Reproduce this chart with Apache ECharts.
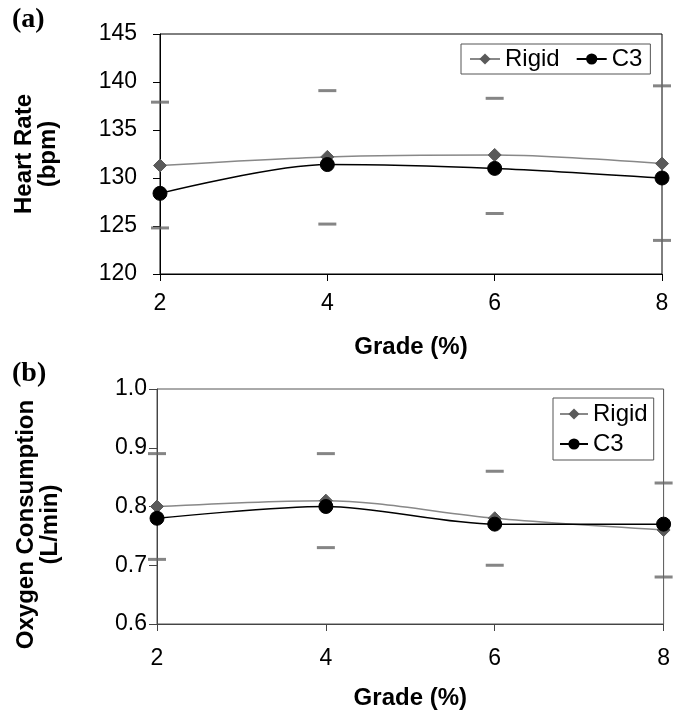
<!DOCTYPE html>
<html>
<head>
<meta charset="utf-8">
<script src="https://cdn.jsdelivr.net/npm/echarts@6/dist/echarts.min.js"></script>
<style>html,body{margin:0;padding:0;background:#fff}#c{width:673px;height:711px}</style>
</head>
<body>
<div id="c"></div>
<script>
var grades = [2, 4, 6, 8];
var hrRigid = [131.3, 132.2, 132.4, 131.5];
var hrC3 = [128.4, 131.4, 131.0, 130.0];
var hrErrUpper = [137.9, 139.1, 138.3, 139.6];
var hrErrLower = [124.8, 125.2, 126.3, 123.5];
var vo2Rigid = [0.80, 0.81, 0.78, 0.76];
var vo2C3 = [0.78, 0.80, 0.77, 0.77];
var vo2ErrUpper = [0.89, 0.89, 0.86, 0.84];
var vo2ErrLower = [0.71, 0.73, 0.70, 0.68];
var hrTicks = [120, 125, 130, 135, 140, 145];
var vo2Ticks = [0.6, 0.7, 0.8, 0.9, 1.0];

function pairs(xs, ys) { return xs.map(function (x, i) { return [x, ys[i]]; }); }

var FONT = '"Liberation Sans", Arial, sans-serif';
var rigidLine = '#888888', rigidMark = '#5a5a5a', errCol = '#666666';
var TICK_FS = 23, TITLE_FS = 24, LEG_FS = 24;

function xAxisFor(gi, color, titleGap, labelMargin) {
  return {
    type: 'value', gridIndex: gi, min: 2, max: 8, interval: 2,
    name: 'Grade (%)', nameLocation: 'middle', nameGap: titleGap,
    nameTextStyle: { fontFamily: FONT, fontSize: TITLE_FS, fontWeight: 'bold', color: '#000' },
    axisLine: { show: true, onZero: false, lineStyle: { color: color, width: 1 } },
    axisTick: { show: true, length: 7, lineStyle: { color: color } },
    axisLabel: { fontFamily: FONT, fontSize: TICK_FS, color: '#000', margin: labelMargin },
    splitLine: { show: false }
  };
}

var option = {
  animation: false,
  backgroundColor: '#fff',
  textStyle: { fontFamily: FONT },
  grid: [
    { left: 160, top: 34, right: 11, height: 240, show: true, borderColor: '#000', borderWidth: 1, backgroundColor: 'transparent' },
    { left: 157, top: 389, right: 7, height: 237, show: true, borderColor: '#555', borderWidth: 1, backgroundColor: 'transparent' }
  ],
  legend: [
    {
      data: ['Rigid', 'C3'], orient: 'horizontal', left: 461, top: 44,
      padding: [3, 8, 3, 8], itemGap: 16, itemWidth: 30, itemHeight: 14,
      borderColor: '#555', borderWidth: 1, borderRadius: 0,
      textStyle: { fontFamily: FONT, fontSize: LEG_FS, color: '#000' }
    },
    {
      data: ['Rigid', 'C3'], orient: 'vertical', left: 553, top: 398,
      padding: [4, 6, 4, 6], itemGap: 6, itemWidth: 28, itemHeight: 14,
      borderColor: '#555', borderWidth: 1, borderRadius: 0,
      textStyle: { fontFamily: FONT, fontSize: LEG_FS, color: '#000' }
    }
  ],
  xAxis: [xAxisFor(0, '#000', 61, 18), xAxisFor(1, '#444', 62, 23)],
  yAxis: [
    {
      type: 'value', gridIndex: 0, min: hrTicks[0], max: hrTicks[hrTicks.length - 1], interval: 5,
      name: 'Heart Rate\n(bpm)', nameLocation: 'middle', nameGap: 100,
      nameTextStyle: { fontFamily: FONT, fontSize: TITLE_FS, fontWeight: 'bold', color: '#000', lineHeight: 24 },
      axisLine: { show: true, onZero: false, lineStyle: { color: '#000' } },
      axisTick: { show: true, length: 7, lineStyle: { color: '#000' } },
      axisLabel: { fontFamily: FONT, fontSize: TICK_FS, color: '#000', margin: 23 },
      splitLine: { show: false }
    },
    {
      type: 'value', gridIndex: 1, min: vo2Ticks[0], max: vo2Ticks[vo2Ticks.length - 1], interval: 0.1,
      name: 'Oxygen Consumption\n(L/min)', nameLocation: 'middle', nameGap: 95,
      nameTextStyle: { fontFamily: FONT, fontSize: TITLE_FS, fontWeight: 'bold', color: '#000', lineHeight: 24, padding: [0, 36, 0, 0] },
      axisLine: { show: true, onZero: false, lineStyle: { color: '#444' } },
      axisTick: { show: true, length: 8, lineStyle: { color: '#444' } },
      axisLabel: { fontFamily: FONT, fontSize: TICK_FS, color: '#000', margin: 10, formatter: function (v) { return v.toFixed(1); } },
      splitLine: { show: false }
    }
  ],
  graphic: [
    { type: 'text', left: 12, top: 6, style: { text: '(a)', font: 'bold 28px "Liberation Serif", "Times New Roman", serif', fill: '#000' } },
    { type: 'text', left: 12, top: 360, style: { text: '(b)', font: 'bold 28px "Liberation Serif", "Times New Roman", serif', fill: '#000' } }
  ],
  series: [
    { name: 'HR upper', type: 'scatter', xAxisIndex: 0, yAxisIndex: 0, data: pairs(grades, hrErrUpper), symbol: 'rect', symbolSize: [18, 3], itemStyle: { color: errCol }, silent: true, z: 1 },
    { name: 'HR lower', type: 'scatter', xAxisIndex: 0, yAxisIndex: 0, data: pairs(grades, hrErrLower), symbol: 'rect', symbolSize: [18, 3], itemStyle: { color: errCol }, silent: true, z: 1 },
    { name: 'Rigid', type: 'line', xAxisIndex: 0, yAxisIndex: 0, data: pairs(grades, hrRigid), smooth: 0.3, symbol: 'diamond', symbolSize: 13, showSymbol: true,
      lineStyle: { color: rigidLine, width: 1.5 }, itemStyle: { color: rigidMark, borderColor: rigidMark }, z: 3 },
    { name: 'C3', type: 'line', xAxisIndex: 0, yAxisIndex: 0, data: pairs(grades, hrC3), smooth: 0.3, symbol: 'circle', symbolSize: 14, showSymbol: true,
      lineStyle: { color: '#000', width: 1.5 }, itemStyle: { color: '#000', borderColor: '#000' }, z: 4 },
    { name: 'VO2 upper', type: 'scatter', xAxisIndex: 1, yAxisIndex: 1, data: pairs(grades, vo2ErrUpper), symbol: 'rect', symbolSize: [18, 3], itemStyle: { color: errCol }, silent: true, z: 1 },
    { name: 'VO2 lower', type: 'scatter', xAxisIndex: 1, yAxisIndex: 1, data: pairs(grades, vo2ErrLower), symbol: 'rect', symbolSize: [18, 3], itemStyle: { color: errCol }, silent: true, z: 1 },
    { name: 'Rigid', type: 'line', xAxisIndex: 1, yAxisIndex: 1, data: pairs(grades, vo2Rigid), smooth: 0.3, symbol: 'diamond', symbolSize: 13, showSymbol: true,
      lineStyle: { color: rigidLine, width: 1.5 }, itemStyle: { color: rigidMark, borderColor: rigidMark }, z: 3 },
    { name: 'C3', type: 'line', xAxisIndex: 1, yAxisIndex: 1, data: pairs(grades, vo2C3), smooth: 0.3, symbol: 'circle', symbolSize: 14, showSymbol: true,
      lineStyle: { color: '#000', width: 1.5 }, itemStyle: { color: '#000', borderColor: '#000' }, z: 4 }
  ]
};

var chart = echarts.init(document.getElementById('c'), null, { renderer: 'canvas' });
chart.setOption(option);
</script>
</body>
</html>
